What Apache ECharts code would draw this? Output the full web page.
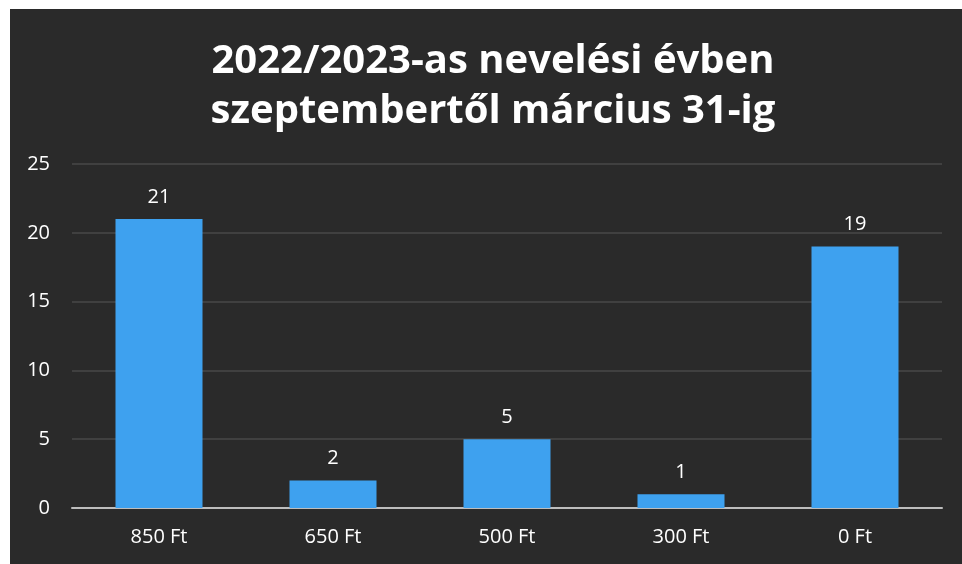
<!DOCTYPE html>
<html>
<head>
<meta charset="utf-8">
<script src="https://cdn.jsdelivr.net/npm/echarts@6/dist/echarts.min.js"></script>
<style>
  html, body { margin: 0; padding: 0; background: #ffffff; overflow: hidden; }
  #chart {
    position: absolute;
    left: 10px;
    top: 9px;
    width: 952px;
    height: 555px;
    background: #2a2a2a;
  }
</style>
</head>
<body>
<div id="chart"></div>
<script>
const categories = ['850 Ft', '650 Ft', '500 Ft', '300 Ft', '0 Ft'];
const values = [21, 2, 5, 1, 19];
const titleLines = ['2022/2023-as nevelési évben', 'szeptembertől március 31-ig'];

const chart = echarts.init(document.getElementById('chart'));

const option = {
  backgroundColor: '#2a2a2a',
  animation: false,
  title: {
    text: titleLines.join('\n'),
    left: 478,
    top: 23,
    textAlign: 'center',
    textStyle: {
      color: '#ffffff',
      fontFamily: 'Open Sans',
      fontWeight: 'bold',
      fontSize: 40,
      lineHeight: 50
    }
  },
  grid: {
    left: 62,
    right: 20,
    top: 155,
    bottom: 56
  },
  xAxis: {
    type: 'category',
    data: categories,
    axisLine: { lineStyle: { color: '#bdbdbd', width: 2 } },
    axisTick: { show: false },
    axisLabel: {
      color: '#ffffff',
      fontFamily: 'Open Sans',
      fontSize: 20,
      margin: 19
    }
  },
  yAxis: {
    type: 'value',
    min: 0,
    max: 25,
    interval: 5,
    axisLine: { show: false },
    axisTick: { show: false },
    axisLabel: {
      color: '#ffffff',
      fontFamily: 'Open Sans',
      fontSize: 20,
      margin: 22
    },
    splitLine: { lineStyle: { color: '#484848', width: 1.5 } }
  },
  series: [
    {
      type: 'bar',
      data: values,
      barWidth: '50%',
      itemStyle: { color: '#3ea1ef' },
      label: {
        show: true,
        position: 'top',
        distance: 12,
        color: '#ffffff',
        fontFamily: 'Open Sans',
        fontSize: 20
      }
    }
  ]
};

chart.setOption(option);
</script>
</body>
</html>
